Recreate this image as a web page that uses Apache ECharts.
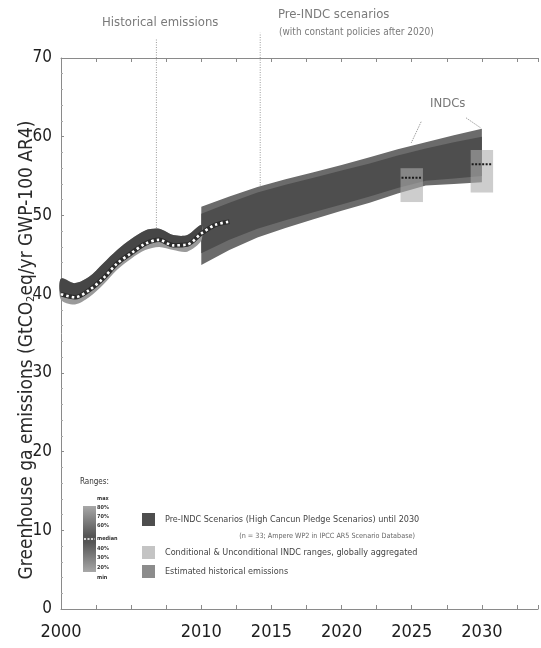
<!DOCTYPE html>
<html>
<head>
<meta charset="utf-8">
<script src="https://cdn.jsdelivr.net/npm/echarts@6/dist/echarts.min.js"></script>
<style>
html,body{margin:0;padding:0;background:#fff;}
#chart{width:541px;height:648px;}
</style>
</head>
<body>
<div id="chart"></div>
<script>
// ---------- DATA ----------
const histYears   = [2000, 2001, 2002, 2003, 2004, 2005, 2006, 2007, 2008, 2009, 2010];
const histUpper   = [42.0, 41.4, 42.2, 43.9, 45.6, 47.0, 48.1, 48.3, 47.5, 47.5, 48.8];
const histLower   = [39.3, 38.7, 39.6, 41.2, 43.1, 44.5, 45.6, 46.0, 45.6, 45.4, 46.8];
const medianYears = [2000, 2001, 2002, 2003, 2004, 2005, 2006, 2007, 2008, 2009, 2010, 2011, 2012];
const histMedian  = [40.0, 39.6, 40.5, 42.0, 43.9, 45.2, 46.4, 46.9, 46.2, 46.3, 47.7, 48.8, 49.2];

const preYears  = [2010, 2012, 2014, 2016, 2018, 2020, 2022, 2024, 2026, 2028, 2030];
const preMax    = [51.1, 52.4, 53.6, 54.6, 55.5, 56.4, 57.4, 58.4, 59.3, 60.2, 61.0];
const preHigh80 = [50.2, 51.6, 52.9, 53.9, 54.8, 55.7, 56.6, 57.6, 58.5, 59.3, 60.0];
const preLow20  = [45.2, 46.9, 48.3, 49.4, 50.4, 51.4, 52.4, 53.5, 54.4, 54.7, 55.0];
const preMin    = [43.7, 45.6, 47.2, 48.4, 49.5, 50.6, 51.6, 52.8, 53.8, 54.0, 54.2];

const indcYears  = [2025, 2030];
const indcLow    = [51.7, 52.9];
const indcHigh   = [56.0, 58.3];
const indcMedian = [54.8, 56.5];

const annotYears = [2006.8, 2014.2];
const annotFrom  = [48.4, 53.8];
const annotTop   = [72.5, 73.2];

const yTicks = [0, 10, 20, 30, 40, 50, 60, 70];
const xLabelYears = [2000, 2010, 2015, 2020, 2025, 2030];

const rangeLabels = ['max', '80%', '70%', '60%', 'median', '40%', '30%', '20%', 'min'];
const legendItems = [
  'Pre-INDC Scenarios (High Cancun Pledge Scenarios) until 2030',
  'Conditional & Unconditional INDC ranges, globally aggregated',
  'Estimated historical emissions'
];

// ---------- STYLE ----------
const FONT = "'Liberation Sans Narrow', 'DejaVu Sans Condensed', sans-serif";

function bandSeries(xs, up, lo, fill, z, smooth) {
  return {
    type: 'custom', z: z, silent: true,
    data: [[xs[0], up[0]]],
    renderItem: function (params, api) {
      const pts = [];
      for (let i = 0; i < xs.length; i++) pts.push(api.coord([xs[i], up[i]]));
      for (let i = xs.length - 1; i >= 0; i--) pts.push(api.coord([xs[i], lo[i]]));
      return { type: 'polygon', shape: { points: pts, smooth: smooth || 0 }, style: { fill: fill } };
    }
  };
}

const chart = echarts.init(document.getElementById('chart'), null, { renderer: 'canvas' });

const rangeYs = [499, 508, 517, 526, 539, 549, 558, 568, 578];
const rangeGraphics = rangeLabels.map(function (t, i) {
  return { type: 'text', left: 97, top: rangeYs[i] - 3, style: { text: t, font: 'bold 5.5px ' + FONT, fill: '#333' } };
});

const option = {
  animation: false,
  backgroundColor: '#fff',
  grid: { left: 61, right: 0, top: 58, bottom: 39, containLabel: false },
  xAxis: [{
    type: 'value', min: 2000, max: 2034, interval: 2.5, position: 'bottom',
    axisLine: { show: true, lineStyle: { color: '#8a8a8a', width: 1 } },
    axisTick: { show: true, inside: true, length: 4, lineStyle: { color: '#8a8a8a' } },
    axisLabel: {
      show: true, margin: 14, color: '#1e1e1e', fontFamily: FONT, fontSize: 18, hideOverlap: false,
      formatter: function (v) { return xLabelYears.indexOf(Math.round(v * 10) / 10) >= 0 ? String(v) : ''; }
    },
    splitLine: { show: false }
  }, {
    type: 'value', min: 2000, max: 2034, interval: 2.5, position: 'top',
    axisLine: { show: true, onZero: false, lineStyle: { color: '#8a8a8a', width: 1 } },
    axisTick: { show: true, inside: true, length: 4, lineStyle: { color: '#8a8a8a' } },
    axisLabel: { show: false }, splitLine: { show: false }
  }],
  yAxis: {
    type: 'value', min: 0, max: 70, interval: 10,
    axisLine: { show: true, lineStyle: { color: '#8a8a8a', width: 1 } },
    axisTick: { show: true, inside: true, length: 3, lineStyle: { color: '#8a8a8a' } },
    minorTick: { show: true, splitNumber: 5, length: 2, lineStyle: { color: '#aaa' } },
    axisLabel: { margin: 9, color: '#1e1e1e', fontFamily: FONT, fontSize: 17,
      formatter: function (v) { return yTicks.indexOf(v) >= 0 ? String(v) : ''; } },
    splitLine: { show: false }
  },
  series: [
    // pre-INDC scenario ranges
    bandSeries(preYears, preMax, preMin, '#6b6b6b', 2, 0),
    bandSeries(preYears, preHigh80, preLow20, '#4e4e4e', 3, 0),
    // historical ranges
    bandSeries(histYears, histUpper, histLower, '#9a9a9a', 4, 0.3),
    bandSeries(histYears, histUpper, histMedian.slice(0, histYears.length), '#464646', 5, 0.3),
    // historical median
    {
      type: 'line', z: 6, silent: true, symbol: 'none', smooth: 0.3,
      data: medianYears.map(function (y, i) { return [y, histMedian[i]]; }),
      lineStyle: { color: '#2c2c2c', width: 4.5 }
    },
    {
      type: 'line', z: 7, silent: true, symbol: 'none', smooth: 0.3,
      data: medianYears.map(function (y, i) { return [y, histMedian[i]]; }),
      lineStyle: { color: '#ffffff', width: 2.6, type: [2.5, 3] }
    },
    // INDC boxes
    {
      type: 'custom', z: 8, silent: true,
      data: indcYears.map(function (y, i) { return [y, indcLow[i], indcHigh[i], indcMedian[i]]; }),
      renderItem: function (params, api) {
        const x = api.value(0);
        const w = api.size([1.6, 0])[0];
        const lo = api.coord([x, api.value(1)]);
        const hi = api.coord([x, api.value(2)]);
        const md = api.coord([x, api.value(3)]);
        return {
          type: 'group', children: [
            { type: 'rect', shape: { x: lo[0] - w / 2, y: hi[1], width: w, height: lo[1] - hi[1] },
              style: { fill: 'rgba(172,172,172,0.6)' } },
            { type: 'line', shape: { x1: md[0] - w / 2 + 1, y1: md[1], x2: md[0] + w / 2 - 1, y2: md[1] },
              style: { stroke: '#1a1a1a', lineWidth: 2, lineDash: [2, 1.5] } }
          ]
        };
      }
    },
    // annotation guide lines
    {
      type: 'custom', z: 9, silent: true, clip: false,
      data: annotYears.map(function (y, i) { return [y, annotFrom[i], annotTop[i]]; }),
      renderItem: function (params, api) {
        const a = api.coord([api.value(0), api.value(1)]);
        const b = api.coord([api.value(0), api.value(2)]);
        return { type: 'line', shape: { x1: a[0], y1: a[1], x2: b[0], y2: b[1] },
          style: { stroke: '#9a9a9a', lineWidth: 1, lineDash: [1, 1.5] } };
      }
    },
    // INDC leader lines
    {
      type: 'custom', z: 9, silent: true, clip: false,
      data: [[2025.67, 61.9, 2024.96, 59.2], [2028.87, 62.4, 2029.93, 61.1]],
      renderItem: function (params, api) {
        const a = api.coord([api.value(0), api.value(1)]);
        const b = api.coord([api.value(2), api.value(3)]);
        return { type: 'line', shape: { x1: a[0], y1: a[1], x2: b[0], y2: b[1] },
          style: { stroke: '#a0a0a0', lineWidth: 1, lineDash: [1.5, 1] } };
      }
    }
  ],
  graphic: [
    // y-axis title
    { type: 'text', x: 27, y: 350, rotation: Math.PI / 2,
      style: { text: '{a|Greenhouse ga emissions (GtCO}{s|2}{a|eq/yr GWP-100 AR4)}',
        align: 'center', verticalAlign: 'middle',
        rich: { a: { fontFamily: FONT, fontSize: 19, fill: '#2a2a2a', color: '#2a2a2a' },
                s: { fontFamily: FONT, fontSize: 11, fill: '#2a2a2a', color: '#2a2a2a', padding: [9, 0, 0, 0] } } } },
    // top labels
    { type: 'text', left: 102, top: 16, style: { text: 'Historical emissions', font: '13px ' + FONT, fill: '#7a7a7a' } },
    { type: 'text', left: 278, top: 8, style: { text: 'Pre-INDC scenarios', font: '13px ' + FONT, fill: '#7a7a7a' } },
    { type: 'text', left: 279, top: 27, style: { text: '(with constant policies after 2020)', font: '10px ' + FONT, fill: '#7a7a7a' } },
    { type: 'text', left: 430, top: 97, style: { text: 'INDCs', font: '13px ' + FONT, fill: '#777' } },
    // legend: ranges
    { type: 'text', left: 80, top: 478, style: { text: 'Ranges:', font: '8px ' + FONT, fill: '#333' } },
    { type: 'rect', shape: { x: 83, y: 506, width: 13, height: 66 },
      style: { fill: new echarts.graphic.LinearGradient(0, 0, 0, 1, [
        { offset: 0, color: '#a8a8a8' }, { offset: 0.45, color: '#555' },
        { offset: 0.55, color: '#555' }, { offset: 1, color: '#a8a8a8' }]) } },
    { type: 'line', shape: { x1: 84, y1: 539, x2: 95, y2: 539 }, style: { stroke: '#fff', lineWidth: 1.5, lineDash: [2, 1.5] } }
  ].concat(rangeGraphics).concat([
    { type: 'rect', shape: { x: 142, y: 513, width: 13, height: 13 }, style: { fill: '#4e4e4e' } },
    { type: 'text', left: 165, top: 515, style: { text: legendItems[0], font: '9px ' + FONT, fill: '#444' } },
    { type: 'text', right: 126, top: 533, style: { text: '(n = 33; Ampere WP2 in IPCC AR5 Scenario Database)', font: '7.2px ' + FONT, fill: '#666', align: 'right' } },
    { type: 'rect', shape: { x: 142, y: 546, width: 13, height: 13 }, style: { fill: '#c4c4c4' } },
    { type: 'text', left: 165, top: 548, style: { text: legendItems[1], font: '9px ' + FONT, fill: '#444' } },
    { type: 'rect', shape: { x: 142, y: 565, width: 13, height: 13 }, style: { fill: '#8c8c8c' } },
    { type: 'text', left: 165, top: 567, style: { text: legendItems[2], font: '9px ' + FONT, fill: '#444' } }
  ])
};

chart.setOption(option);
</script>
</body>
</html>
